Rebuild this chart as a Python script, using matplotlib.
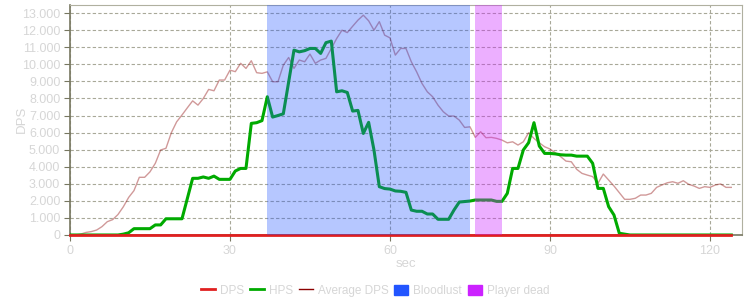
import matplotlib
matplotlib.use("Agg")
import matplotlib.pyplot as plt
import numpy as np
from matplotlib.lines import Line2D
from matplotlib.patches import Patch
from matplotlib.ticker import FuncFormatter

# seconds 0..124
secs = list(range(125))

hps = [0, 0, 0, 0, 0, 0, 0, 0, 0, 0,
       50, 130, 370, 370, 370, 370, 590, 590, 950, 950,
       950, 950, 2130, 3320, 3320, 3400, 3320, 3450, 3260, 3260,
       3260, 3750, 3900, 3900, 6540, 6580, 6700, 8100, 6910, 7000,
       7100, 8960, 10830, 10730, 10800, 10930, 10930, 10640, 11270, 11360,
       8390, 8450, 8350, 7260, 7300, 5950, 6600, 4980, 2830, 2720,
       2690, 2580, 2560, 2500, 1460, 1390, 1390, 1230, 1230, 920,
       920, 920, 1460, 1930, 1960, 1990, 2050, 2050, 2050, 2050,
       1970, 1970, 2440, 3900, 3900, 4980, 5410, 6580, 5210, 4780,
       4780, 4750, 4700, 4680, 4680, 4620, 4620, 4620, 4200, 2730,
       2730, 1660, 1170, 100, 50] + [0] * 20

avg_dps = [0, 0, 50, 150, 200, 290, 490, 780, 900, 1200,
           1650, 2200, 2600, 3380, 3380, 3700, 4200, 4980, 5080, 5990,
           6630, 7030, 7450, 7860, 7610, 8000, 8530, 8450, 9080, 9080,
           9660, 9570, 10060, 9760, 10210, 9510, 9470, 9560, 8980, 8980,
           9950, 10400, 9760, 10250, 10150, 10600, 10060, 10250, 10350, 10930,
           11510, 12000, 11860, 12230, 12590, 12880, 12550, 12000, 12500, 11710,
           11550, 10540, 10930, 10930, 10150, 9560, 8880, 8390, 8100, 7610,
           7220, 6970, 6970, 6730, 6300, 6340, 5720, 6050, 5700, 5720,
           5660, 5560, 5400, 5460, 5270, 5460, 5990, 5660, 5400, 5170,
           5040, 4820, 4590, 4330, 4290, 3850, 3610, 3510, 3420, 3030,
           3570, 3220, 2870, 2480, 2090, 2090, 2150, 2340, 2340, 2440,
           2790, 2930, 3060, 3120, 3030, 3180, 2970, 2870, 2730, 2830,
           2790, 2930, 2990, 2790, 2790]

dps = [0] * 125

bloodlust = (36.9, 75.0)
player_dead = (75.9, 81.0)

txt = '#d6d6d6'
plt.rcParams['font.family'] = ['Liberation Sans', 'DejaVu Sans']

fig = plt.figure(figsize=(7.5, 3), dpi=100)
ax = fig.add_axes([0.0933, 0.2167, 0.896, 0.768])

ax.plot(secs, avg_dps, color='#8b0000', lw=1, alpha=0.4, zorder=3)
ax.plot(secs, hps, color='#00aa00', lw=2.2, zorder=4)
ax.plot(secs, dps, color='#e02020', lw=2, zorder=4, clip_on=False)

ax.axvspan(*bloodlust, color='#2255ff', alpha=0.33, lw=0, zorder=5)
ax.axvspan(*player_dead, color='#cc22ff', alpha=0.36, lw=0, zorder=5)

ax.set_xlim(0, 126)
ax.set_ylim(0, 13500)
ax.set_xticks([0, 30, 60, 90, 120])
ax.set_yticks(np.arange(0, 13001, 1000))
ax.yaxis.set_major_formatter(FuncFormatter(lambda v, p: '{:,.0f}'.format(v).replace(',', '.')))
ax.grid(True, color='#a8a898', ls=(0, (3, 2)), lw=0.8, zorder=1)
ax.set_axisbelow(True)
ax.tick_params(colors='#777760', labelcolor=txt, labelsize=9, length=4, pad=3)

for s in ['left', 'bottom']:
    ax.spines[s].set_color('#777760')
    ax.spines[s].set_linewidth(1.2)
for s in ['top', 'right']:
    ax.spines[s].set_color('#b0b0a0')

ax.set_xlabel('sec', color=txt, fontsize=9.5, labelpad=1)
ax.set_ylabel('DPS', color=txt, fontsize=9.5, labelpad=-4)

handles = [Line2D([], [], color='#e02020', lw=2),
           Line2D([], [], color='#00aa00', lw=2),
           Line2D([], [], color='#8b0000', lw=1),
           Patch(color='#2255ff'),
           Patch(color='#cc22ff')]
labels = ['DPS', 'HPS', 'Average DPS', 'Bloodlust', 'Player dead']
leg = fig.legend(handles, labels, loc='lower center', bbox_to_anchor=(0.5, -0.025),
                 ncol=5, frameon=False, fontsize=8.5, handlelength=1.2,
                 handleheight=0.9, handletextpad=0.4, columnspacing=0.5,
                 labelcolor=txt)

fig.savefig('out.png', dpi=100)
